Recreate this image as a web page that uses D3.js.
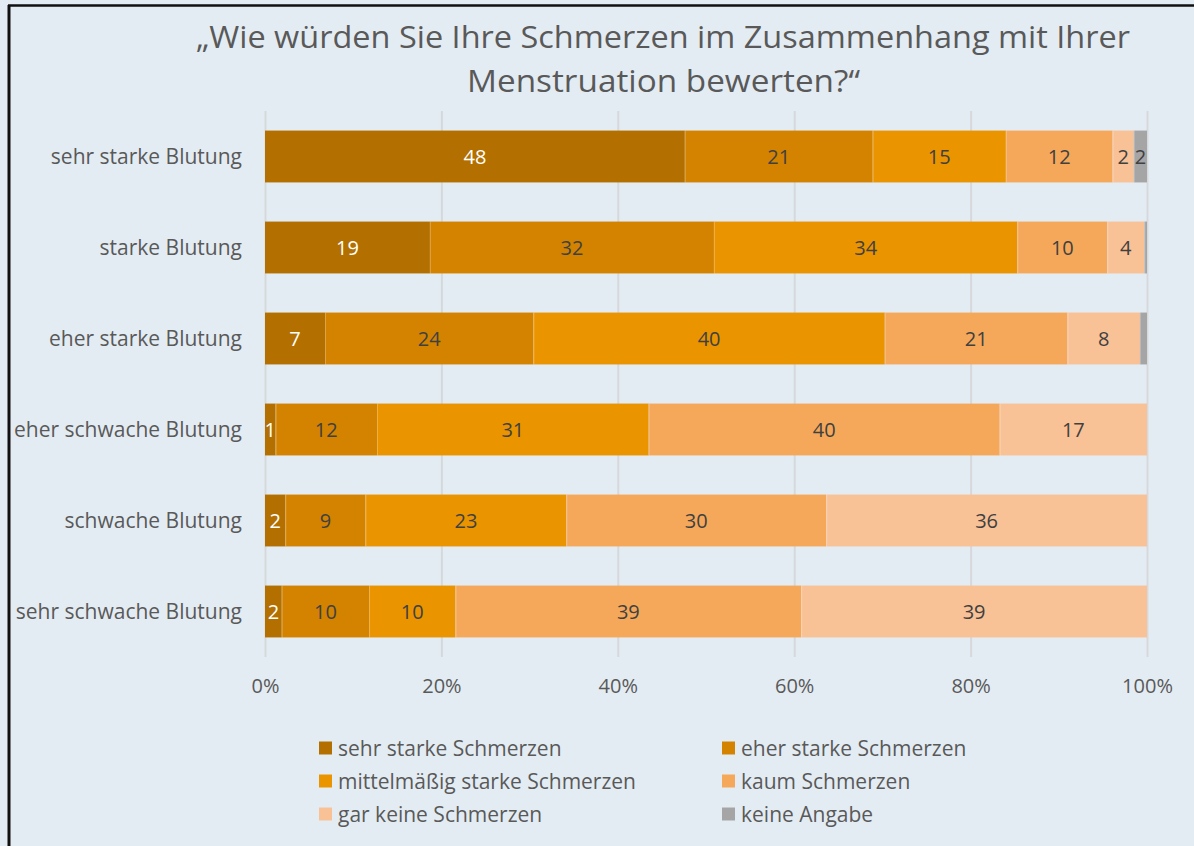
<!DOCTYPE html>
<html><head><meta charset="utf-8">
<script src="https://cdn.jsdelivr.net/npm/d3@7"></script>
<style>
html,body{margin:0;padding:0;background:#fff;}
svg{display:block;}
text{font-family:"Open Sans",Lato,sans-serif;}
</style></head>
<body>
<svg id="chart" width="1194" height="846"></svg>
<script>
const categories = ["sehr starke Blutung","starke Blutung","eher starke Blutung","eher schwache Blutung","schwache Blutung","sehr schwache Blutung"];
const seriesNames = ["sehr starke Schmerzen","eher starke Schmerzen","mittelmäßig starke Schmerzen","kaum Schmerzen","gar keine Schmerzen","keine Angabe"];
const sehrStarke   = [47.6, 18.7, 6.8, 1.2, 2.3, 1.9];
const eherStarke   = [21.3, 32.2, 23.6, 11.5, 9.1, 9.9];
const mittelmaessig= [15.1, 34.4, 39.8, 30.8, 22.8, 9.8];
const kaum         = [12.1, 10.2, 20.7, 39.8, 29.5, 39.2];
const garKeine     = [2.4, 4.2, 8.2, 16.7, 36.4, 39.2];
const keineAngabe  = [1.5, 0.3, 0.8, 0, 0, 0];
const xTicks = [0, 0.2, 0.4, 0.6, 0.8, 1];
const titleLines = ["„Wie würden Sie Ihre Schmerzen im Zusammenhang mit Ihrer", "Menstruation bewerten?“"];
const colors = ["#b37000","#d38300","#ea9400","#f5a85a","#f8c196","#a5a5a5"];

const seriesVals = [sehrStarke, eherStarke, mittelmaessig, kaum, garKeine, keineAngabe];
const rows = categories.map((c,i)=>{const o={cat:c}; seriesNames.forEach((s,j)=>o[s]=seriesVals[j][i]); return o;});

const svg = d3.select("#chart");
svg.append("rect").attr("x",0).attr("y",0).attr("width",1194).attr("height",846).attr("fill","#e4ecf3");
svg.append("line").attr("x1",9).attr("x2",9).attr("y1",5).attr("y2",846).attr("stroke","#111").attr("stroke-width",3);
svg.append("line").attr("x1",8).attr("x2",1194).attr("y1",5.5).attr("y2",5.5).attr("stroke","#111").attr("stroke-width",2.5);

const x = d3.scaleLinear().domain([0,1]).range([265,1147]);
const y = d3.scaleBand().domain(categories).range([111,657]).paddingInner(0.43).paddingOuter(0.215);

// title
const tLen = [934, 393];
const tX = [196, 467];
titleLines.forEach((t,i)=>{
  svg.append("text").attr("x",tX[i]).attr("y",48+i*44).attr("font-size",31).attr("fill","#595959")
    .attr("font-family","Lato")
    .attr("textLength",tLen[i]).attr("lengthAdjust","spacingAndGlyphs").text(t);
});

// grid
const gAxis = svg.append("g").attr("transform","translate(0,657)");
const axis = d3.axisBottom(x).tickValues(xTicks).tickFormat(d3.format(".0%")).tickSize(-546).tickPadding(22);
gAxis.call(axis);
gAxis.select(".domain").remove();
gAxis.selectAll(".tick line").attr("stroke","#d6d9dc").attr("stroke-width",2);
gAxis.selectAll(".tick text").attr("font-size",20).attr("fill","#595959").attr("font-family","Open Sans");

// stack
const stack = d3.stack().keys(seriesNames).offset(d3.stackOffsetExpand);
const layers = stack(rows);
const g = svg.append("g");
layers.forEach((layer,j)=>{
  const lg = g.append("g").attr("fill",colors[j]);
  lg.selectAll("rect").data(layer).join("rect")
    .attr("x",d=>x(d[0])).attr("y",d=>y(d.data.cat))
    .attr("width",d=>Math.max(0,x(d[1])-x(d[0]))).attr("height",y.bandwidth());
  lg.selectAll("line.sep").data(layer.filter(d=>d[1]-d[0]>0 && d[0]>0)).join("line").attr("class","sep")
    .attr("x1",d=>x(d[0])+0.5).attr("x2",d=>x(d[0])+0.5)
    .attr("y1",d=>y(d.data.cat)).attr("y2",d=>y(d.data.cat)+y.bandwidth())
    .attr("stroke","#fff").attr("stroke-opacity",0.25).attr("stroke-width",1);
});
layers.forEach((layer,j)=>{
  g.append("g").selectAll("text").data(layer.filter(d=>d.data[seriesNames[j]]>=1)).join("text")
    .attr("x",d=>(x(d[0])+x(d[1]))/2).attr("y",d=>y(d.data.cat)+y.bandwidth()/2)
    .attr("dy","0.36em").attr("text-anchor","middle").attr("font-size",20)
    .attr("fill", j===0 ? "#ffffff" : "#404040")
    .text(d=>d3.format(".0f")(d.data[seriesNames[j]]));
});

// category labels
svg.append("g").selectAll("text").data(categories).join("text")
  .attr("x",242).attr("y",d=>y(d)+y.bandwidth()/2).attr("dy","0.36em")
  .attr("text-anchor","end").attr("font-size",21).attr("fill","#595959").text(d=>d);

// legend
const legX = [319, 722], legY = [748, 781, 814];
const lg = svg.append("g").selectAll("g").data(seriesNames).join("g")
  .attr("transform",(d,i)=>`translate(${legX[i%2]},${legY[Math.floor(i/2)]})`);
lg.append("rect").attr("x",0).attr("y",-6.5).attr("width",13).attr("height",13).attr("fill",(d,i)=>colors[i]);
lg.append("text").attr("x",19).attr("y",0).attr("dy","0.36em").attr("font-size",21).attr("fill","#595959").text(d=>d);
</script>
</body></html>
